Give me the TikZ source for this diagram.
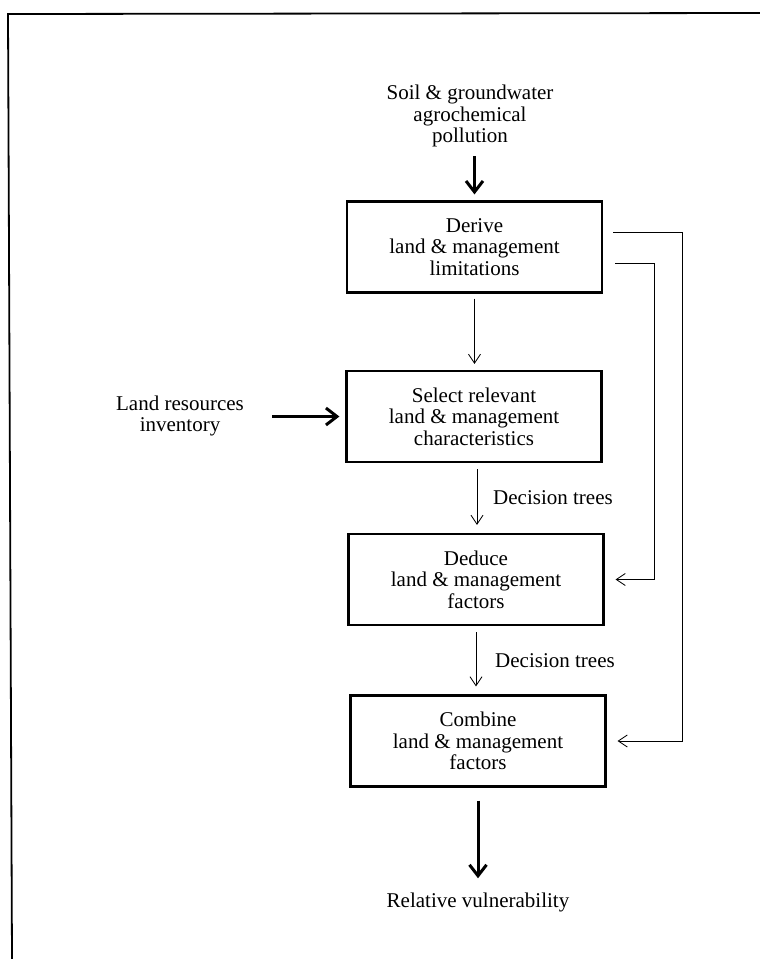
\documentclass[tikz,border=0pt]{standalone}
\usepackage{fontspec}
\setmainfont{Liberation Serif}
\usetikzlibrary{arrows.meta}
\begin{document}
\begin{tikzpicture}[x=1pt,y=-1pt,
  txt/.style={font=\fontsize{21}{21.5}\selectfont, align=center, inner sep=0pt},
  procbox/.style={txt, draw, line width=2.2pt, minimum width=255pt, minimum height=91pt},
  thinarrow/.style={line width=0.8pt, -{Straight Barb[length=9pt,width=12pt]}},
  thickarrow/.style={line width=3pt, -{Straight Barb[length=11pt,width=17pt]}}
]
\useasboundingbox (0,0) rectangle (760,959);
% frame
\draw[line width=1.8pt] (760,13) -- (8,14) -- (12,959);

% nodes
\node[txt] (soil) at (470,116) {Soil \& groundwater\\agrochemical\\pollution};
\node[procbox] (derive) at (474.5,247) {Derive\\land \& management\\limitations};
\node[procbox] (select) at (474,416.5) {Select relevant\\land \& management\\characteristics};
\node[procbox] (deduce) at (476,579.5) {Deduce\\land \& management\\factors};
\node[procbox] (combine) at (478,741) {Combine\\land \& management\\factors};
\node[txt] (land) at (180,416) {Land resources\\inventory};
\node[txt] (rel) at (478,902) {Relative vulnerability};
\node[txt, anchor=west] (dt1) at (493,498) {Decision trees};
\node[txt, anchor=west] (dt2) at (495,661) {Decision trees};

% feedback start points
\coordinate (o1) at (613,232);
\coordinate (o2) at (615,263);

% connectors
\draw[thickarrow, shorten <=9pt, shorten >=6pt] (derive.north |- soil.south) -- (derive.north);
\draw[thinarrow, shorten <=5pt, shorten >=6pt] (derive.south) -- (derive.south |- select.north);
\draw[thinarrow, shorten <=6pt, shorten >=8pt] ([xshift=1pt]deduce.north |- select.south) -- ([xshift=1pt]deduce.north);
\draw[thinarrow, shorten <=6pt, shorten >=8pt] (deduce.south) -- (deduce.south |- combine.north);
\draw[thickarrow, shorten <=13pt, shorten >=14pt] (combine.south) -- (rel.north -| combine.south);
\draw[thickarrow, shorten <=28pt, shorten >=6pt] (land.east |- select.west) -- (select.west);
\draw[thinarrow, shorten >=11pt] (o1) -- (682,232) |- (combine.east);
\draw[thinarrow, shorten >=11pt] (o2) -- (654,263) |- (deduce.east);
\end{tikzpicture}
\end{document}
